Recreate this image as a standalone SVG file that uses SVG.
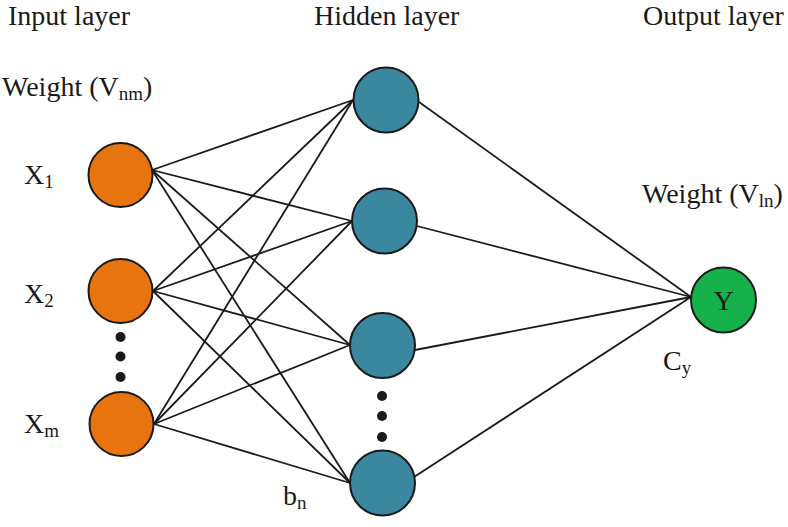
<svg xmlns="http://www.w3.org/2000/svg" width="788" height="527" viewBox="0 0 788 527">
<style>
text{font-family:"Liberation Serif","Times New Roman",serif;font-size:28px;fill:#1a1a1a}
.sub{font-size:19px}
.node{stroke:#1a1a1a;stroke-width:2}
.in{fill:#E87410}
.hid{fill:#3A87A0}
.out{fill:#17B14B}
.c line{stroke:#1a1a1a;stroke-width:1.8}
.dot{fill:#1a1a1a}
</style>
<rect width="788" height="527" fill="#fff"/>
<g class="c" id="connectors">
<line x1="152" y1="170" x2="353" y2="100"/>
<line x1="152" y1="170" x2="352" y2="221"/>
<line x1="152" y1="170" x2="350" y2="345"/>
<line x1="152" y1="170" x2="350" y2="483"/>
<line x1="153" y1="291" x2="353" y2="100"/>
<line x1="153" y1="291" x2="352" y2="221"/>
<line x1="153" y1="291" x2="350" y2="345"/>
<line x1="153" y1="291" x2="350" y2="483"/>
<line x1="154" y1="424" x2="353" y2="100"/>
<line x1="154" y1="424" x2="352" y2="221"/>
<line x1="154" y1="424" x2="350" y2="345"/>
<line x1="154" y1="424" x2="350" y2="483"/>
<line x1="419" y1="102" x2="691" y2="297"/>
<line x1="417" y1="226" x2="691" y2="297"/>
<line x1="415" y1="350" x2="691" y2="297"/>
<line x1="414" y1="477" x2="691" y2="297"/>
</g>
<g id="x1"><circle class="node in" cx="120.5" cy="175" r="32"/></g>
<g id="x2"><circle class="node in" cx="120.5" cy="291" r="32"/></g>
<g id="xm"><circle class="node in" cx="121.5" cy="424" r="32"/></g>
<g id="h1"><circle class="node hid" cx="386" cy="100" r="32.5"/></g>
<g id="h2"><circle class="node hid" cx="384.5" cy="221" r="32.5"/></g>
<g id="h3"><circle class="node hid" cx="382.5" cy="345.5" r="32.5"/></g>
<g id="h4"><circle class="node hid" cx="382.5" cy="483" r="32.5"/></g>
<g id="y"><circle class="node out" cx="723.5" cy="300" r="32.5"/><text x="723.5" y="310" text-anchor="middle">Y</text></g>
<g id="dots">
<circle class="dot" cx="120.5" cy="337" r="5"/>
<circle class="dot" cx="120.5" cy="356.5" r="5"/>
<circle class="dot" cx="120.5" cy="377" r="5"/>
<circle class="dot" cx="382" cy="396" r="5"/>
<circle class="dot" cx="382" cy="416" r="5"/>
<circle class="dot" cx="382" cy="437" r="5"/>
</g>
<g id="labels">
<text x="8" y="25">Input layer</text>
<text x="314" y="25">Hidden layer</text>
<text x="643" y="25">Output layer</text>
<text x="2" y="96">Weight (V<tspan class="sub" dy="4">nm</tspan><tspan dy="-4">)</tspan></text>
<text x="642" y="203">Weight (V<tspan class="sub" dy="4">ln</tspan><tspan dy="-4">)</tspan></text>
<text x="24" y="184">X<tspan class="sub" dy="4">1</tspan></text>
<text x="24" y="303">X<tspan class="sub" dy="4">2</tspan></text>
<text x="24" y="433">X<tspan class="sub" dy="4">m</tspan></text>
<text x="663" y="370">C<tspan class="sub" dy="4">y</tspan></text>
<text x="283" y="505">b<tspan class="sub" dy="4">n</tspan></text>
</g>
</svg>
